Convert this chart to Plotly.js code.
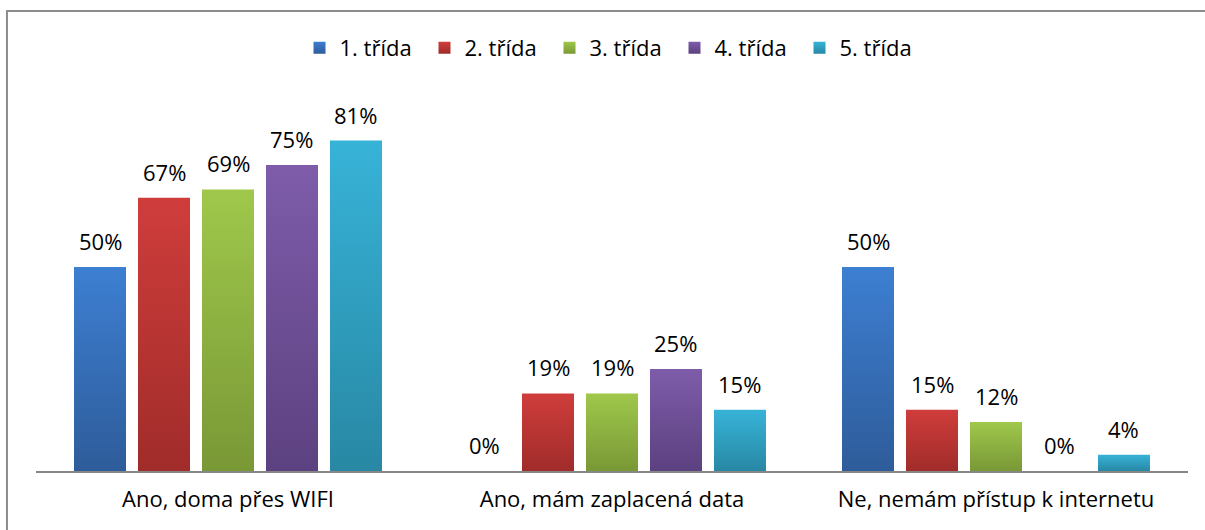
<!DOCTYPE html>
<html>
<head>
<meta charset="utf-8">
<script src="https://cdn.plot.ly/plotly-3.0.1.min.js"></script>
<style>
  html, body { margin: 0; padding: 0; background: #fff; }
  #chart { width: 1205px; height: 530px; }
</style>
</head>
<body>
<div id="chart"></div>
<script>
    // kategorie a hodnoty (podíl žáků)
    const categories = ['Ano, doma přes WIFI', 'Ano, mám zaplacená data', 'Ne, nemám přístup k internetu'];
    const seriesNames = ['1. třída', '2. třída', '3. třída', '4. třída', '5. třída'];
    const trida1 = [0.50, 0.00, 0.50];
    const trida2 = [0.67, 0.19, 0.15];
    const trida3 = [0.69, 0.19, 0.12];
    const trida4 = [0.75, 0.25, 0.00];
    const trida5 = [0.81, 0.15, 0.04];
    const seriesValues = [trida1, trida2, trida3, trida4, trida5];

    // barvy: horní a dolní konec přechodu
    const gradTop = ['#3d7fd2', '#cf3d3b', '#9fc84b', '#7e5caa', '#37b3d8'];
    const gradBottom = ['#2e5c9a', '#a02c2a', '#799836', '#5c4180', '#2888a4'];
    const midColors = ['#376fb8', '#b93735', '#8cb042', '#6e4f95', '#30a0c0'];

    const fontFamily = '"Open Sans", Lato, sans-serif';
    const W = 1205, H = 530;
    const margin = { l: 36, r: 17, t: 63, b: 59 };
    const bargap = 0.1667, bargroupgap = 0.1875;

    const traces = seriesValues.map((vals, i) => ({
        type: 'bar',
        name: seriesNames[i],
        x: categories,
        y: vals,
        marker: { color: midColors[i], line: { width: 0 } },
        hoverinfo: 'skip'
    }));

    // popisky hodnot nad sloupci (posun podle pozice sloupce ve skupině)
    const slotPx = (W - margin.l - margin.r) / categories.length * (1 - bargap) / seriesValues.length;
    const annotations = [];
    seriesValues.forEach((vals, i) => {
        vals.forEach((v, j) => {
            annotations.push({
                x: categories[j], y: v,
                xref: 'x', yref: 'y',
                text: Math.round(v * 100) + '%',
                showarrow: false,
                yanchor: 'bottom',
                xshift: (i - (seriesValues.length - 1) / 2) * slotPx,
                yshift: 9,
                font: { family: fontFamily, size: 22, color: '#000' }
            });
        });
    });

    const layout = {
        width: W,
        height: H,
        margin: margin,
        paper_bgcolor: '#fff',
        plot_bgcolor: '#fff',
        barmode: 'group',
        bargap: bargap,
        bargroupgap: bargroupgap,
        showlegend: true,
        legend: {
            orientation: 'h',
            x: 0.5, xanchor: 'center',
            y: 1.037, yanchor: 'middle',
            font: { family: fontFamily, size: 22, color: '#000' },
            entrywidth: 80,
            entrywidthmode: 'pixels',
            itemclick: false
        },
        xaxis: {
            showline: true,
            linecolor: '#878787',
            linewidth: 2,
            ticks: '',
            showgrid: false,
            tickfont: { family: fontFamily, size: 22, color: '#000' },
            ticklabelstandoff: 8
        },
        yaxis: {
            range: [0, 1],
            visible: false,
            showgrid: false,
            zeroline: false
        },
        annotations: annotations,
        shapes: [{
            type: 'rect',
            xref: 'paper', yref: 'paper',
            x0: -0.0252, x1: 1.05,
            y0: -0.3, y1: 1.1275,
            line: { color: '#8c8c8c', width: 2 },
            fillcolor: 'rgba(0,0,0,0)',
            layer: 'below'
        }]
    };

    Plotly.newPlot('chart', traces, layout, { staticPlot: true }).then(gd => {
        // svislý přechod barev jako v Excelu
        const svg = gd.querySelector('.main-svg');
        let defs = svg.querySelector('defs');
        const ns = 'http://www.w3.org/2000/svg';
        gradTop.forEach((c, i) => {
            const lg = document.createElementNS(ns, 'linearGradient');
            lg.setAttribute('id', 'barGrad' + i);
            lg.setAttribute('x1', '0'); lg.setAttribute('y1', '0');
            lg.setAttribute('x2', '0'); lg.setAttribute('y2', '1');
            const s1 = document.createElementNS(ns, 'stop');
            s1.setAttribute('offset', '0'); s1.setAttribute('stop-color', c);
            const s2 = document.createElementNS(ns, 'stop');
            s2.setAttribute('offset', '1'); s2.setAttribute('stop-color', gradBottom[i]);
            lg.appendChild(s1); lg.appendChild(s2);
            defs.appendChild(lg);
        });
        gd.querySelectorAll('.barlayer .trace').forEach((tr, i) => {
            tr.querySelectorAll('.point path').forEach(p => { p.style.fill = 'url(#barGrad' + i + ')'; });
        });
        gd.querySelectorAll('.legend .traces').forEach((tr, i) => {
            tr.querySelectorAll('.legendpoints path').forEach(p => { p.style.fill = 'url(#barGrad' + i + ')'; });
        });
    });
</script>
</body>
</html>
